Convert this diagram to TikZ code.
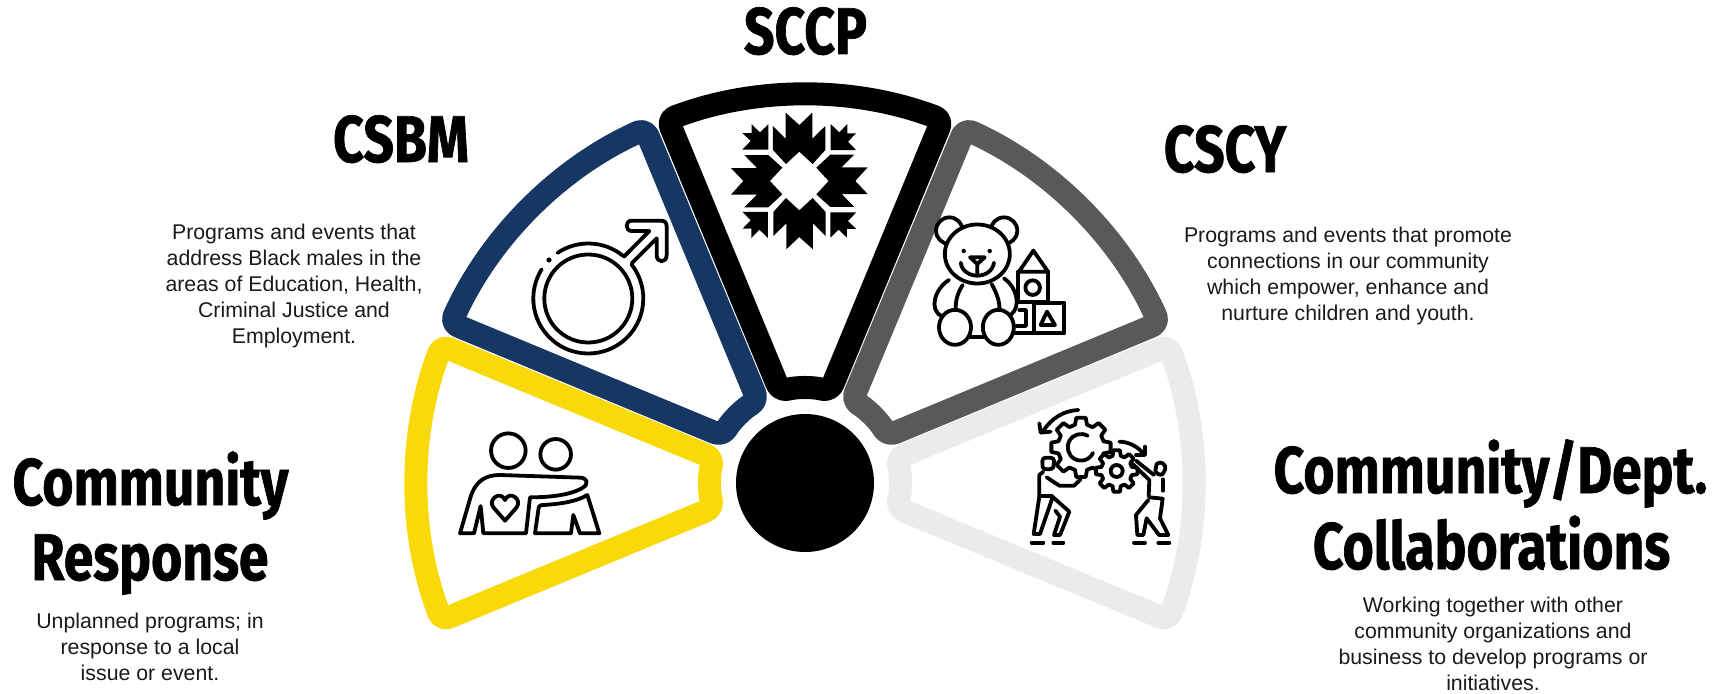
\documentclass[tikz,border=0pt]{standalone}
\usepackage{fontspec}
\setmainfont{Liberation Sans}
\newfontfamily\titlefont[FakeStretch=0.81,FakeBold=1]{Fira Sans Bold}
\definecolor{navyc}{HTML}{163763}
\definecolor{yellowc}{HTML}{F9D90A}
\definecolor{greyc}{HTML}{595959}
\definecolor{lightc}{HTML}{EBEBEB}
\definecolor{bodyc}{HTML}{1A1A1A}
\tikzset{
  sectorline/.style={line width=23pt,line join=round,fill=white,rounded corners=8pt},
  icon/.style={line width=3.8pt,line cap=round,line join=round,draw=black},
  title/.style={font=\titlefont\fontsize{66}{76}\selectfont,inner sep=0pt,anchor=base,align=center,text=black},
  body/.style={font=\fontsize{21.3}{26}\selectfont,inner sep=0pt,anchor=base,align=center,text=bodyc},
  zoomed/.style={x=0.3333pt,y=-0.3333pt},
  polarz/.style={x=0.3333pt,y=0.3333pt}
}
\newcommand\fansector[2]{%
  \draw[sectorline,draw=#1] ({#2+20.7}:388.5) arc[start angle=#2+20.7,end angle=#2-20.7,radius=388.5pt]
    -- ({#2-15.2}:95) arc[start angle=#2-15.2,end angle=#2+15.2,radius=95pt] -- cycle;}
% args: teeth, body radius, tooth radius, base half-angle, tip half-angle
\newcommand\gearpath[5]{%
  \draw[icon,fill=white] ({-#4}:#2)
    \foreach \k in {1,...,#1} {
      -- ({(\k-1)*360/#1-#4}:#2) -- ({(\k-1)*360/#1-#5}:#3) -- ({(\k-1)*360/#1+#5}:#3) -- ({(\k-1)*360/#1+#4}:#2)
    } -- cycle;}
\begin{document}
\begin{tikzpicture}[x=1pt,y=-1pt]
\useasboundingbox (0,0) rectangle (1723,693);
\fill[white] (0,0) rectangle (1723,693);

% fan
\begin{scope}[shift={(805,483)},y=1pt]
  \fansector{lightc}{0}
  \fansector{greyc}{45}
  \fansector{yellowc}{180}
  \fansector{navyc}{135}
  \fansector{black}{90}
  \fill[black] (0,0) circle[radius=69pt];
\end{scope}

% titles
\node[title] (sccp) at (805.5,54) {SCCP};
\node[title] (csbm) at (401,162) {CSBM};
\node[title] (cscy) at (1225,172) {CSCY};
\node[title] (cr1) at (150.5,505) {Community};
\node[title] (cr2) at (150,580) {Response};
\node[title] (cd1) at (1490.5,493) {Community/Dept.};
\node[title] (cd2) at (1491.5,569) {Collaborations};

% descriptions
\node[body] (d1) at (294,343) {Programs and events that\\address Black males in the\\areas of Education, Health,\\Criminal Justice and\\Employment.};
\node[body] (d2) at (1348,320) {Programs and events that promote\\connections in our community\\which empower, enhance and\\nurture children and youth.};
\node[body] (d3) at (150,680) {Unplanned programs; in\\response to a local\\issue or event.};
\node[body] (d4) at (1493,690) {Working together with other\\community organizations and\\business to develop programs or\\initiatives.};

% quilt star
\begin{scope}[shift={(799.3,181)},zoomed]
  \foreach \r in {0,90,180,270}{
    \fill[black,rotate=\r] (-79,-165)--(-41,-127)--(-41,-205)--(0,-168)--(39,-205)--(39,-127)--(78,-165)--(78,-93)--(40,-51)--(0,-88)--(-40,-51)--(-79,-93)--cycle;
    \fill[black,rotate=\r] (94,-171)--(120,-146)--(144,-171)--(144,-143)--(170,-143)--(146,-118)--(170,-93)--(94,-93)--cycle;
  }
\end{scope}

% male symbol
\begin{scope}[shift={(588.3,298.5)},y=1pt]
  \draw[icon] (0,0) circle[radius=44pt];
  \draw[icon] (124:55) arc[start angle=124,end angle=51,radius=55pt];
  \draw[icon] (38.4:55) arc[start angle=38.4,end angle=-212,radius=55pt];
  \fill[black] (-39.3,38.5) circle[radius=2.6pt];
\end{scope}
\begin{scope}[shift={(510,200)},zoomed]
  \draw[icon] (342,170) -- (418,93) -- (365,93) .. controls (345,93) and (345,62) .. (365,62)
     -- (452,62) .. controls (465,62) and (470,68) .. (470,80) -- (470,165)
     .. controls (470,190) and (440,190) .. (440,165) -- (440,115) -- (365,190);
\end{scope}

% teddy and blocks
\begin{scope}[shift={(920,200)},zoomed]
  \draw[icon,fill=white] (88,92) circle[radius=13.3pt];
  \draw[icon,fill=white] (252,92) circle[radius=13.3pt];
  \draw[icon,fill=white] (172,162) ellipse[x radius=32.5pt,y radius=29.5pt];
  \fill[black] (131,153) circle[radius=2.2pt] (209,153) circle[radius=2.2pt];
  \draw[icon] (150,172) -- (194,172) -- (172,192) -- cycle (172,192) -- (172,226);
  \draw[icon] (122,188) .. controls (130,240) and (214,240) .. (222,188);
  \draw[icon] (87,240) .. controls (45,265) and (25,330) .. (65,348);
  \draw[icon] (252,235) .. controls (290,260) and (305,320) .. (272,345);
  \draw[icon] (128,255) .. controls (112,280) and (105,305) .. (108,332);
  \draw[icon] (215,252) .. controls (230,280) and (240,305) .. (238,330);
  \draw[icon] (150,410) -- (195,410);
  \draw[icon,fill=white] (105,382) ellipse[x radius=16pt,y radius=17.5pt];
  \draw[icon,fill=white] (235,382) ellipse[x radius=15.5pt,y radius=17.5pt];
  \draw[icon] (340,152) -- (384,215) -- (297,215) -- cycle;
  \draw[icon] (295,262) -- (295,215) (385,215) -- (385,305) -- (295,305) -- (295,255);
  \draw[icon] (338,263) circle[radius=7.3pt];
  \draw[icon] (342,308) rectangle (433,400);
  \draw[icon] (381,335) -- (405,375) -- (362,375) -- cycle;
  \draw[icon] (298,330) -- (318,330) -- (318,378) -- (290,378);
  \draw[icon] (278,398) -- (342,398);
\end{scope}

% couple
\begin{scope}[shift={(440,400)},zoomed]
  \draw[icon] (205,152) circle[radius=17.3pt];
  \draw[icon] (347,163) circle[radius=15.3pt];
  \draw[icon] (60,400) -- (92,290) .. controls (108,240) and (140,225) .. (180,225)
    -- (420,233) .. controls (440,233) and (448,250) .. (430,262)
    .. controls (395,285) and (330,292) .. (270,292)
    -- (258,400) -- (130,400) -- (122,318) -- (102,400) -- cycle;
  \draw[icon] (285,400) -- (295,330) .. controls (296,318) and (300,315) .. (310,315)
    .. controls (360,312) and (410,305) .. (442,285)
    -- (478,400) -- (420,400) -- (400,345) -- (393,400) -- cycle;
  \draw[icon] (195,362) -- (160,322) .. controls (142,298) and (182,270) .. (195,300)
    .. controls (208,270) and (248,298) .. (230,322) -- cycle;
\end{scope}

% collaboration icon
\begin{scope}[shift={(1010,390)},zoomed]
  \draw[icon] (205,60) .. controls (160,62) and (125,85) .. (100,122);
  \draw[icon] (88,100) -- (92,128) -- (122,125);
  \draw[icon] (328,155) .. controls (355,155) and (385,170) .. (402,193);
  \draw[icon] (378,195) -- (405,195) -- (405,170);
  \begin{scope}[shift={(213,172)},polarz]
    \gearpath{8}{70}{90}{15}{9}
    \draw[icon] (60:40) arc[start angle=60,end angle=335,radius=13.3pt];
  \end{scope}
  \begin{scope}[shift={(320,243)},polarz]
    \gearpath{8}{47}{63}{15}{9}
    \draw[icon] (0,0) circle[radius=6pt];
  \end{scope}
  % left figure
  \draw[icon,fill=white] (106,203) -- (122,203) .. controls (130,203) and (132,208) .. (132,214)
     -- (130,232) .. controls (128,240) and (100,240) .. (98,232) -- (97,214) .. controls (97,208) and (100,203) .. (106,203) -- cycle;
  \draw[icon] (100,245) -- (88,255) -- (88,320) -- (71,432) -- (90,432) -- (125,330) -- (125,318) -- (178,365) -- (150,435) -- (132,435) -- (150,380) -- (136,362);
  \draw[icon] (88,318) -- (125,318);
  \draw[icon] (110,262) -- (148,287) -- (192,287) -- (212,268);
  \draw[icon] (65,458) -- (100,458) (130,458) -- (160,458);
  % right figure
  \draw[icon] (440,222) .. controls (450,212) and (470,220) .. (465,240) -- (458,252) .. controls (450,258) and (438,250) .. (436,242) -- cycle;
  \draw[icon] (368,222) -- (418,270) -- (416,320);
  \draw[icon] (378,212) -- (432,255);
  \draw[icon] (458,268) -- (458,302);
  \draw[icon] (418,322) -- (458,326) -- (450,385) -- (475,435) -- (447,435) -- (410,385) -- (400,435) -- (382,435) -- (378,375) -- (415,330);
  \draw[icon] (372,458) -- (405,458) (445,458) -- (478,458);
\end{scope}
\end{tikzpicture}
\end{document}
